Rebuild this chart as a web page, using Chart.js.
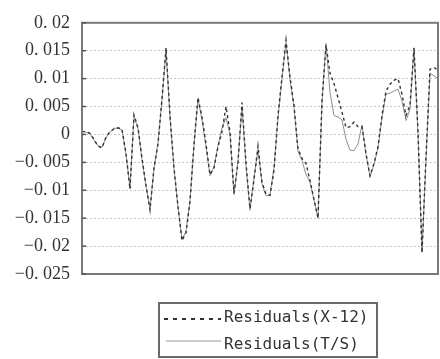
<!DOCTYPE html>
<html>
<head>
<meta charset="utf-8">
<script src="https://cdn.jsdelivr.net/npm/chart.js@4/dist/chart.umd.min.js"></script>
<style>
  html, body { margin: 0; padding: 0; background: #fff; }
  canvas { display: block; }
</style>
</head>
<body>
<canvas id="chart" width="440" height="359"></canvas>
<script>
// residuals, one value per period
var residualsX12 = [
  0.0005, 0.0005, 0.0002, -0.0009, -0.0021, -0.0024, -0.0005, 0.0005, 0.0010, 0.0012,
  0.0009, -0.0034, -0.0098, 0.0035, 0.0012, -0.0043, -0.0091, -0.0135, -0.0060, -0.0017,
  0.0064, 0.0155, 0.0034, -0.0060, -0.0129, -0.0190, -0.0176, -0.0120, -0.0017, 0.0066,
  0.0031, -0.0017, -0.0072, -0.0060, -0.0022, 0.0005, 0.0050, 0.0005, -0.0105, -0.0050,
  0.0057, -0.0052, -0.0133, -0.0081, -0.0021, -0.0086, -0.0107, -0.0109, -0.0064, 0.0034,
  0.0103, 0.0169, 0.0103, 0.0052, -0.0026, -0.0043, -0.0052, -0.0083, -0.0116, -0.0150,
  0.0060, 0.0160, 0.0110, 0.0091, 0.0066, 0.0040, 0.0012, 0.0014, 0.0022, 0.0014,
  0.0014, -0.0034, -0.0074, -0.0052, -0.0022, 0.0034, 0.0078, 0.0090, 0.0097, 0.0100,
  0.0072, 0.0034, 0.0052, 0.0155, 0.0005, -0.0212, -0.0040, 0.0117, 0.0120, 0.0115
];
var residualsTS = [
  0.0006, 0.0004, 0.0001, -0.0010, -0.0020, -0.0023, -0.0006, 0.0004, 0.0011, 0.0011,
  0.0008, -0.0036, -0.0096, 0.0033, 0.0010, -0.0045, -0.0093, -0.0133, -0.0062, -0.0015,
  0.0062, 0.0152, 0.0030, -0.0062, -0.0131, -0.0188, -0.0174, -0.0118, -0.0020, 0.0064,
  0.0026, -0.0022, -0.0074, -0.0058, -0.0020, 0.0012, 0.0030, 0.0000, -0.0108, -0.0048,
  0.0050, -0.0056, -0.0136, -0.0078, -0.0028, -0.0088, -0.0110, -0.0108, -0.0060, 0.0030,
  0.0100, 0.0165, 0.0098, 0.0048, -0.0030, -0.0047, -0.0072, -0.0085, -0.0118, -0.0150,
  0.0058, 0.0163, 0.0075, 0.0034, 0.0031, 0.0026, -0.0009, -0.0028, -0.0029, -0.0017,
  0.0017, -0.0036, -0.0076, -0.0054, -0.0024, 0.0030, 0.0072, 0.0074, 0.0078, 0.0081,
  0.0060, 0.0025, 0.0045, 0.0155, 0.0000, -0.0210, -0.0045, 0.0110, 0.0105, 0.0100
];
var periods = residualsX12.map(function(v, i) { return i + 1; });

var yTicks = [-0.025, -0.02, -0.015, -0.01, -0.005, 0, 0.005, 0.01, 0.015, 0.02];
var yTickLabels = ['\u22120. 025', '\u22120. 02', '\u22120. 015', '\u22120. 01', '\u22120. 005',
  '0', '0. 005', '0. 01', '0. 015', '0. 02'];

var seriesNames = ['Residuals(X-12)', 'Residuals(T/S)'];

// frame, inward ticks and the boxed legend under the plot
var framePlugin = {
  id: 'frame',
  afterDraw: function(chart) {
    var ctx = chart.ctx;
    var a = chart.chartArea;
    var y = chart.scales.y;
    ctx.save();
    ctx.strokeStyle = '#7a7a7a';
    ctx.lineWidth = 2;
    ctx.strokeRect(a.left, a.top, a.right - a.left, a.bottom - a.top);

    ctx.lineWidth = 1.5;
    ctx.strokeStyle = '#555';
    yTicks.forEach(function(v) {
      var py = y.getPixelForValue(v);
      ctx.beginPath();
      ctx.moveTo(a.left, py);
      ctx.lineTo(a.left + 4, py);
      ctx.stroke();
    });

    // legend
    ctx.strokeStyle = '#6a6a6a';
    ctx.lineWidth = 2;
    ctx.strokeRect(159, 303, 218, 54);

    ctx.font = '16px "DejaVu Sans Mono"';
    ctx.fillStyle = '#333';
    ctx.textBaseline = 'middle';

    ctx.strokeStyle = '#333';
    ctx.lineWidth = 2;
    ctx.setLineDash([4, 5]);
    ctx.beginPath();
    ctx.moveTo(164, 319);
    ctx.lineTo(221, 319);
    ctx.stroke();
    ctx.fillText(seriesNames[0], 224, 318);

    ctx.setLineDash([]);
    ctx.strokeStyle = '#999';
    ctx.lineWidth = 1;
    ctx.beginPath();
    ctx.moveTo(166, 341);
    ctx.lineTo(221, 341);
    ctx.stroke();
    ctx.fillText(seriesNames[1], 224, 345);
    ctx.restore();
  }
};

var ctx = document.getElementById('chart');

var myChart = new Chart(ctx, {
  type: 'line',
  data: {
    labels: periods,
    datasets: [{
      label: seriesNames[0],
      data: residualsX12,
      borderColor: '#333',
      borderWidth: 1.4,
      borderDash: [3, 3],
      pointRadius: 0,
      tension: 0,
      fill: false
    }, {
      label: seriesNames[1],
      data: residualsTS,
      borderColor: '#8f8f8f',
      borderWidth: 1,
      pointRadius: 0,
      tension: 0,
      fill: false
    }]
  },
  options: {
    responsive: false,
    animation: false,
    devicePixelRatio: 1,
    layout: { padding: { left: 0, right: 2, top: 13, bottom: 85 } },
    plugins: {
      legend: { display: false },
      tooltip: { enabled: false }
    },
    scales: {
      x: { display: false, offset: false },
      y: {
        min: -0.025,
        max: 0.02,
        afterFit: function(scale) { scale.width = 82; },
        afterBuildTicks: function(scale) {
          scale.ticks = yTicks.map(function(v) { return { value: v }; });
        },
        ticks: {
          padding: 12,
          color: '#333',
          font: { family: 'Liberation Serif', size: 18 },
          callback: function(value) {
            for (var i = 0; i < yTicks.length; i++) {
              if (Math.abs(yTicks[i] - value) < 1e-9) return yTickLabels[i];
            }
            return '';
          }
        },
        grid: { color: '#c8c8c8', lineWidth: 1, drawTicks: false },
        border: { display: false, dash: [2, 2] }
      }
    }
  },
  plugins: [framePlugin]
});
</script>
</body>
</html>
